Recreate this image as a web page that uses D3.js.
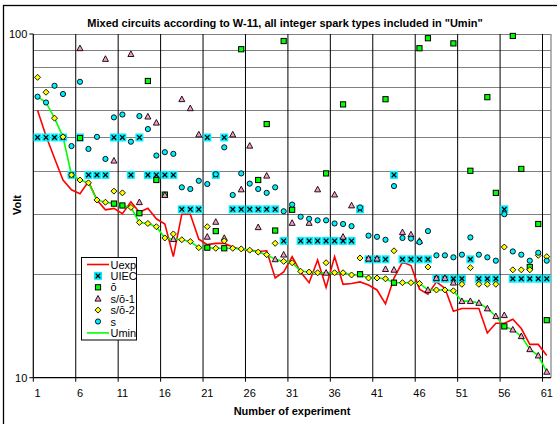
<!DOCTYPE html>
<html><head><meta charset="utf-8">
<script src="https://cdn.jsdelivr.net/npm/d3@7"></script>
<style>
html,body{margin:0;padding:0;background:#fff;}
svg{display:block;font-family:"Liberation Sans",Arial,sans-serif;}
</style></head>
<body>
<svg id="chart" width="557" height="424"></svg>
<script>
// ---------- data ----------
const categories = d3.range(1, 62);
const xTickLabels = [1, 6, 11, 16, 21, 26, 31, 36, 41, 46, 51, 56, 61];
const yTickLabels = [10, 100];
const yGridValues = [20, 30, 40, 50, 60, 70, 80, 90, 100];

const uexp = [60, 50.5, 43.5, 37.6, 35.2, 34.3, 37.2, 32.9, 30.8, 31.1,
  30.0, 32.5, 30.3, 31.1, 29.0, 28.0, 22.5, 29.9, 29.9, 25.3,
  24.4, 24.6, 24.6, 24.0, 23.6, 23.5, 23.3, 23.4, 19.5, 20.3,
  22.5, 20.3, 18.9, 22.0, 18.3, 22.5, 18.7, 18.8, 19.0, 18.6,
  18.0, 16.4, 19.5, 21.7, 21.2, 18.1, 17.5, 19.0, 18.2, 15.6,
  15.9, 15.9, 15.9, 13.5, 14.4, 14.4, 14.8, 13.9, 12.5, 12.5, 11.6];

const uiec = [50, 50, 50, 50, 38.9, 50, 38.9, 38.9, 38.9, 50,
  50, 38.9, 50, 38.9, 38.9, 38.9, 38.9, 30.9, 30.9, 30.9,
  50, 38.9, 50, 30.9, 30.9, 30.9, 30.9, 30.9, 30.9, 25,
  null, 25, 25, 25, 25, 25, 25, 25, 30.9, 22.1,
  22.1, 22.1, 38.9, 22.1, 22.1, 22.1, 22.1, 19.4, 19.4, 19.4,
  19.4, 22.1, 19.4, 19.4, 19.4, 30.9, 19.4, 19.4, 19.4, 19.4, 19.4];

const oBar = [null, null, null, null, null, 49.8, null, null, null, 32.1,
  31.7, null, 30.1, 73, 37.6, 34.1, null, null, null, null,
  23.9, 26.7, 23.8, null, 90.3, null, 37.6, 54.7, 26.8, 95.4,
  30.8, null, null, null, 39.3, null, 62.4, null, 20.0, null,
  null, 64.6, 18.9, null, null, 90.9, 97.2, null, null, 93.9,
  null, 40, null, 65.5, 34.5, 14.1, 98.7, 40.5, 21.0, 28.0, 14.7];

const so1 = [null, null, null, null, null, 90.9, null, null, 84.6, 42.8,
  null, 87.4, 32.4, 57.5, 55.2, 34.0, 25.3, 64.6, 60.8, 51.0,
  25.7, 28.4, 25.5, 51.0, 35.3, 47.3, 27.4, 38.7, 22.1, 22.8,
  28.2, null, 28.2, 35.3, 20.2, 34.1, 25.7, 31.7, null, 22.2,
  22.2, 20.7, 20.6, 26.5, 26.1, 25.0, 18.0, 19.5, 19.5, 18.9,
  16.7, 16.7, 16.5, 15.9, 15.1, 15.2, 13.8, 13.2, 12.1, 11.6, 10.4];

const so2 = [74.8, 67.7, 56.9, 50.2, 38.9, 37.6, 36.9, 32.9, 32.4, 34.9,
  34.5, 31.3, 28.3, 28.1, 27.5, 25.5, 26.2, 25.2, 24.9, 23.9,
  27.5, 23.8, 25.0, 23.8, 23.7, 23.5, 23.2, 22.8, 24.6, 21.8,
  21.6, 20.4, 20.3, 20.2, 21.6, 20.2, 20.2, 19.9, 22.3, 19.5,
  19.5, 19.4, 23.4, 18.9, 18.9, 18.8, 21.0, 18.0, 18.0, 17.9,
  18.7, 20.9, 18.7, 18.7, 18.7, 24.0, 20.6, 20.6, 20.6, 22.7, 22.5];

const sVals = [65.7, 63.2, 70.7, 66.9, 47.2, 72.6, 46.3, 50.2, 43.3, 57.2,
  58.3, 48.6, 57.7, 52.9, 44.3, 45.3, 44.8, 35.8, 35.4, 37.4,
  36.6, 39.1, 46.8, 34.0, 39.3, 36.7, 35.4, 34.5, 35.8, 30.5,
  31.9, 29.4, 29.0, 28.7, 28.7, 28.1, 28.0, 27.6, 31.3, 25.9,
  25.7, 25.2, 36.1, 25.5, 25.4, 24.8, 26.7, 22.7, 22.7, 22.4,
  22.8, 25.6, 22.8, 22.4, 21.9, 29.9, 23.3, 22.8, 21.9, 23.1, 21.9];

const umin = [65.7, 63.2, 56.9, 50.2, 38.9, 37.6, 36.9, 32.9, 32.4, 32.1,
  31.7, 31.3, 28.3, 28.1, 27.5, 25.5, 25.3, 25.2, 24.9, 23.9,
  23.9, 23.8, 23.8, 23.8, 23.7, 23.5, 23.2, 22.8, 22.1, 21.8,
  21.6, 20.4, 20.3, 20.2, 20.2, 20.2, 20.2, 19.9, 19.9, 19.5,
  19.5, 19.4, 18.9, 18.9, 18.9, 18.8, 18.0, 18.0, 18.0, 17.9,
  16.7, 16.7, 16.5, 15.9, 15.1, 14.1, 13.8, 13.2, 12.1, 11.6, 10.4];

const seriesNames = ["Uexp", "UIEC", "\u014D", "s/\u014D-1", "s/\u014D-2", "s", "Umin"];
const titleText = 'Mixed circuits according to W-11, all integer spark types included in "Umin"';

// ---------- layout ----------
const L = 33.3, R = 551, T = 34, B = 377.7;
const svg = d3.select("#chart");

const x = d3.scaleBand().domain(categories).range([L, R]).padding(0);
const xc = d => x(d) + x.bandwidth() / 2;
const y = d3.scaleLog().domain([10, 100]).range([B, T]);

// outer chart frame
svg.append("rect").attr("x", 3.5).attr("y", 5.5).attr("width", 700).attr("height", 600)
  .attr("fill", "#fff").attr("stroke", "#000").attr("stroke-width", 1.3);

// plot area
svg.append("rect").attr("x", L).attr("y", T).attr("width", R - L).attr("height", B - T)
  .attr("fill", "#fff");

// horizontal gridlines
svg.append("g").selectAll("line").data(yGridValues).join("line")
  .attr("x1", L).attr("x2", R)
  .attr("y1", d => Math.round(y(d)) + 0.5).attr("y2", d => Math.round(y(d)) + 0.5)
  .attr("stroke", "#808080").attr("stroke-width", 1.2);

// vertical gridlines at boundaries every 5 categories
const vBound = categories.filter(c => (c - 1) % 5 === 0 && c > 1);
svg.append("g").selectAll("line").data(vBound).join("line")
  .attr("x1", d => x(d)).attr("x2", d => x(d))
  .attr("y1", T).attr("y2", B)
  .attr("stroke", "#000").attr("stroke-width", 1);

// right border of plot
svg.append("line").attr("x1", R).attr("x2", R).attr("y1", T).attr("y2", B)
  .attr("stroke", "#808080").attr("stroke-width", 1.2);

// axes
const xAxisG = svg.append("g").attr("transform", `translate(0,${B})`);
xAxisG.append("line").attr("x1", L).attr("x2", R).attr("y1", 0).attr("y2", 0)
  .attr("stroke", "#000").attr("stroke-width", 1.2);
const tickBounds = categories.filter(c => (c - 1) % 5 === 0);
xAxisG.selectAll(".tk").data(tickBounds).join("line")
  .attr("x1", d => x(d)).attr("x2", d => x(d)).attr("y1", 0).attr("y2", 4)
  .attr("stroke", "#000");
xAxisG.selectAll("text").data(xTickLabels).join("text")
  .attr("x", d => xc(d)).attr("y", 19)
  .attr("text-anchor", "middle").attr("font-size", 11).attr("fill", "#000")
  .text(d => d);

const yAxisG = svg.append("g");
yAxisG.append("line").attr("x1", L).attr("x2", L).attr("y1", T).attr("y2", B)
  .attr("stroke", "#000").attr("stroke-width", 1.2);
yAxisG.selectAll(".tk").data(yTickLabels).join("line")
  .attr("x1", L - 4).attr("x2", L).attr("y1", d => y(d)).attr("y2", d => y(d))
  .attr("stroke", "#000");
yAxisG.selectAll("text").data(yTickLabels).join("text")
  .attr("x", L - 6).attr("y", d => y(d) + 4)
  .attr("text-anchor", "end").attr("font-size", 11).attr("fill", "#000")
  .text(d => d);

// titles
svg.append("text").attr("x", 285).attr("y", 27).attr("text-anchor", "middle")
  .attr("font-size", 11).attr("font-weight", "bold").text(titleText);
svg.append("text").attr("x", 292).attr("y", 415).attr("text-anchor", "middle")
  .attr("font-size", 11).attr("font-weight", "bold").text("Number of experiment");
svg.append("text").attr("transform", "translate(21,205) rotate(-90)")
  .attr("text-anchor", "middle").attr("font-size", 11).attr("font-weight", "bold").text("Volt");

// ---------- marker helpers ----------
const CYAN = "#00F0FF";
function drawUIEC(g, cx, cy) {
  g.append("rect").attr("x", cx - 4).attr("y", cy - 4).attr("width", 8).attr("height", 8).attr("fill", CYAN);
  g.append("path").attr("d", `M${cx-2.3},${cy-2.3}L${cx+2.3},${cy+2.3}M${cx+2.3},${cy-2.3}L${cx-2.3},${cy+2.3}`)
    .attr("stroke", "#000").attr("stroke-width", 1.3);
}
function drawSquare(g, cx, cy) {
  g.append("rect").attr("x", cx - 2.6).attr("y", cy - 2.6).attr("width", 5.2).attr("height", 5.2)
    .attr("fill", "#00FF00").attr("stroke", "#000").attr("stroke-width", 1);
}
function drawTri(g, cx, cy) {
  g.append("path").attr("d", `M${cx},${cy-3.2}L${cx+3},${cy+2.4}L${cx-3},${cy+2.4}Z`)
    .attr("fill", "#FF99CC").attr("stroke", "#000").attr("stroke-width", 0.9);
}
function drawDiamond(g, cx, cy) {
  g.append("path").attr("d", `M${cx},${cy-3}L${cx+3},${cy}L${cx},${cy+3}L${cx-3},${cy}Z`)
    .attr("fill", "#FFFF00").attr("stroke", "#000").attr("stroke-width", 0.9);
}
function drawCircle(g, cx, cy) {
  g.append("circle").attr("cx", cx).attr("cy", cy).attr("r", 2.6)
    .attr("fill", CYAN).attr("stroke", "#000").attr("stroke-width", 0.9);
}

// ---------- series ----------
const line = d3.line().defined(d => d[1] != null).x(d => xc(d[0])).y(d => y(d[1]));
const plot = svg.append("g");
plot.append("path").datum(categories.map((c, i) => [c, uexp[i]]))
  .attr("d", line).attr("fill", "none").attr("stroke", "#FF0000").attr("stroke-width", 1.6);
plot.append("path").datum(categories.map((c, i) => [c, umin[i]]))
  .attr("d", line).attr("fill", "none").attr("stroke", "#00FF00").attr("stroke-width", 1.6);

const mk = plot.append("g");
function drawSeries(vals, fn) {
  vals.forEach((v, i) => { if (v != null) fn(mk, xc(categories[i]), y(v)); });
}
drawSeries(uiec, drawUIEC);
drawSeries(oBar, drawSquare);
drawSeries(so1, drawTri);
drawSeries(so2, drawDiamond);
drawSeries(sVals, drawCircle);

// ---------- legend ----------
const lg = svg.append("g");
lg.append("rect").attr("x", 81.5).attr("y", 257.5).attr("width", 55).attr("height", 82.5)
  .attr("fill", "#fff").attr("stroke", "#000").attr("stroke-width", 1);
const drawers = [null, drawUIEC, drawSquare, drawTri, drawDiamond, drawCircle, null];
const lineCols = ["#FF0000", null, null, null, null, null, "#00FF00"];
seriesNames.forEach((name, i) => {
  const yy = 264.5 + i * 11.4;
  if (lineCols[i]) {
    lg.append("line").attr("x1", 87).attr("x2", 109).attr("y1", yy).attr("y2", yy)
      .attr("stroke", lineCols[i]).attr("stroke-width", 1.6);
  } else {
    drawers[i](lg, 98, yy);
  }
  lg.append("text").attr("x", 110.5).attr("y", yy + 4).attr("font-size", 11).text(name);
});
</script>
</body></html>
